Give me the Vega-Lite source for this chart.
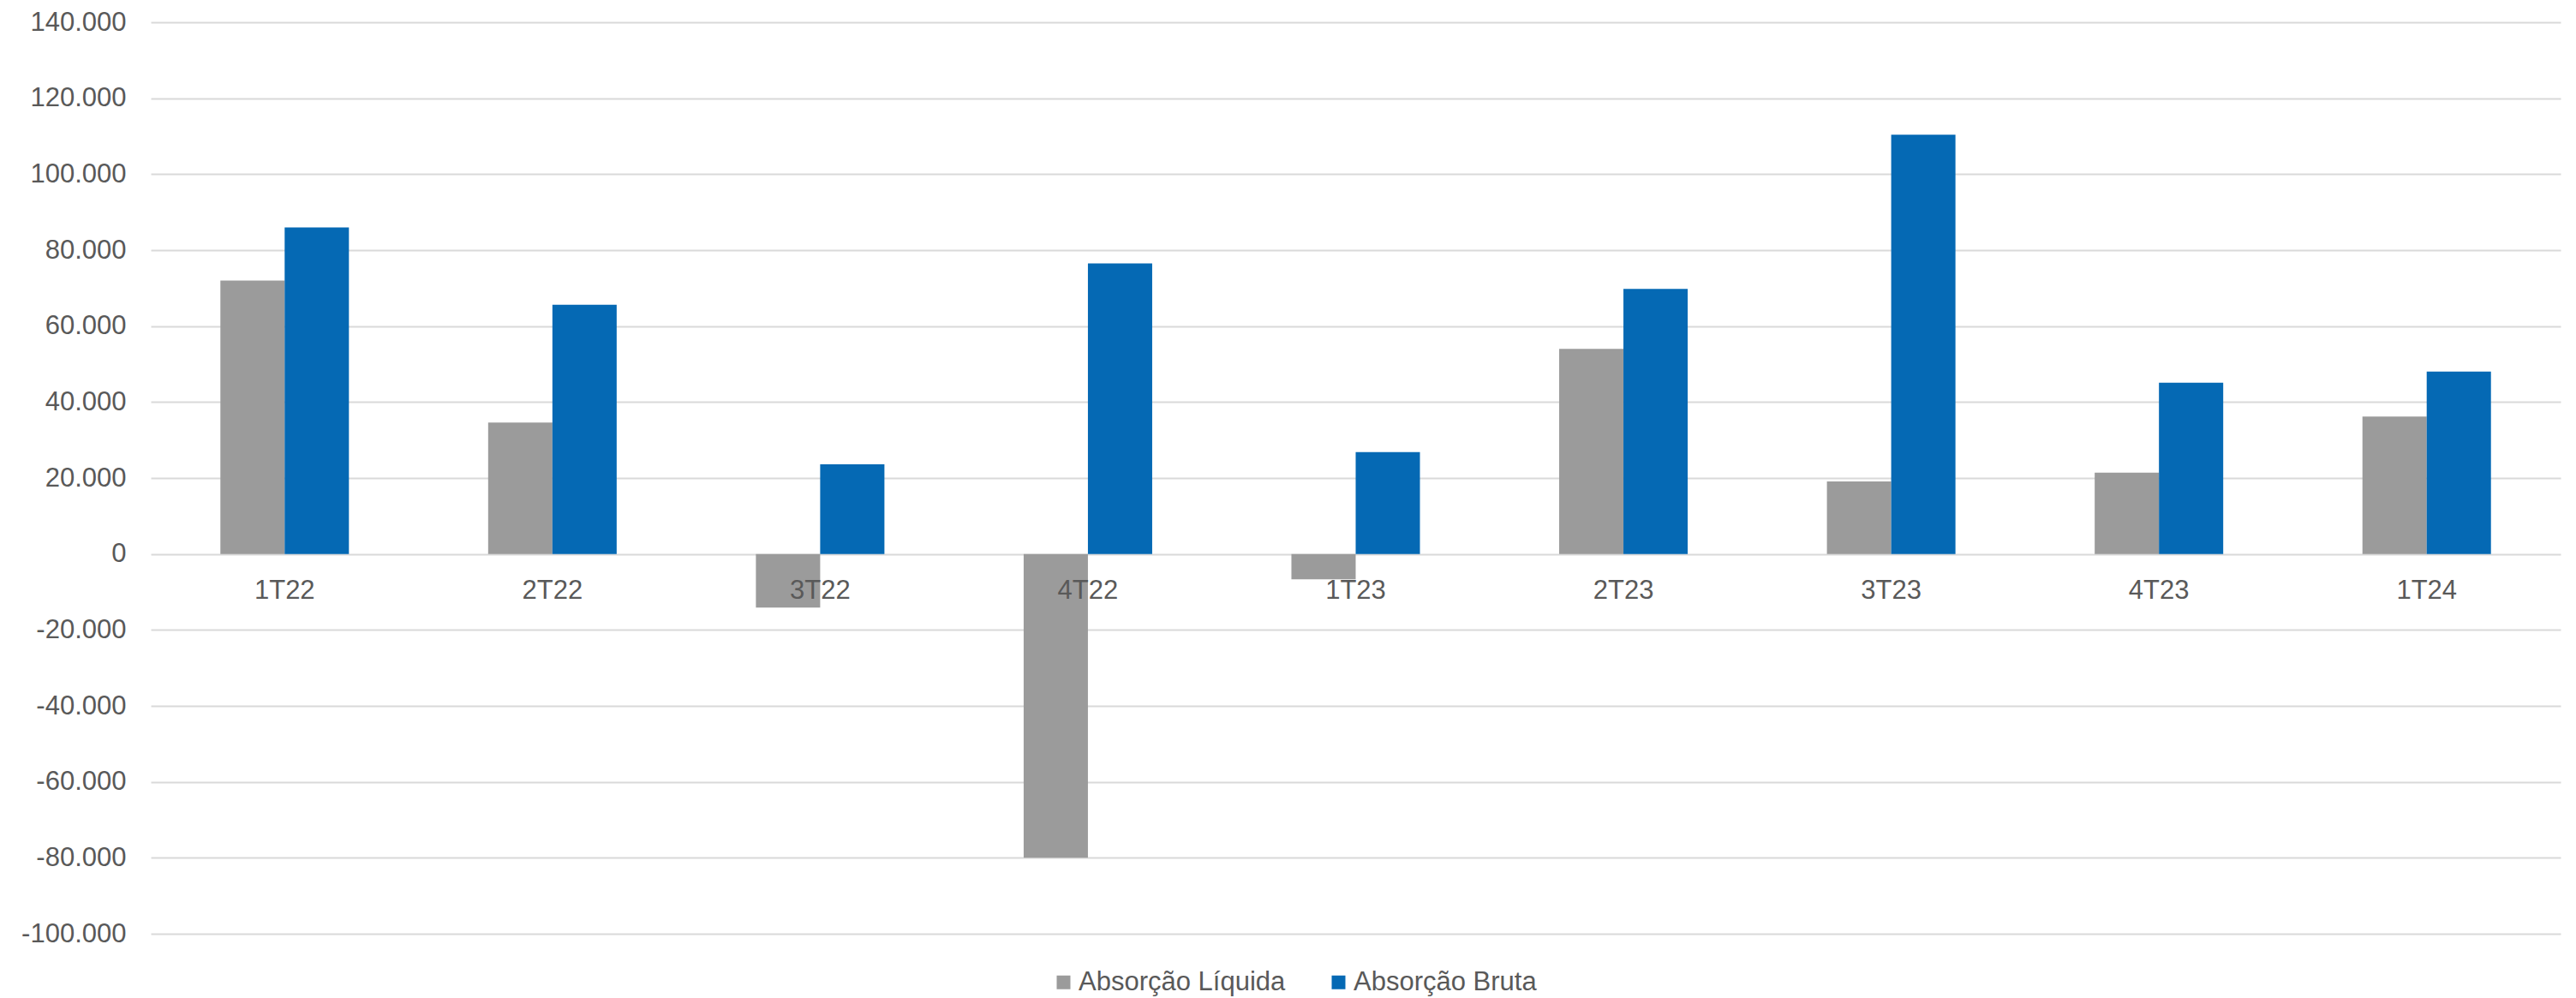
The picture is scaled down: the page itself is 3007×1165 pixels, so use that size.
{
  "$schema": "https://vega.github.io/schema/vega-lite/v6.json",
  "width": 2813,
  "height": 1064,
  "autosize": {"type": "none"},
  "padding": {"left": 176, "top": 26, "right": 18, "bottom": 75},
  "background": "white",
  "config": {
    "view": {"stroke": null},
    "font": "Liberation Sans",
    "axis": {
      "labelFont": "Liberation Sans",
      "labelFontSize": 31,
      "labelColor": "#595959",
      "domain": false,
      "ticks": false,
      "tickSize": 0,
      "title": null
    },
    "legend": {
      "labelFont": "Liberation Sans",
      "labelFontSize": 31,
      "labelColor": "#595959",
      "labelLimit": 0
    }
  },
  "data": {
    "values": [
      {"trimestre": "1T22", "serie": "Absorção Líquida", "valor": 72000},
      {"trimestre": "1T22", "serie": "Absorção Bruta", "valor": 86000},
      {"trimestre": "2T22", "serie": "Absorção Líquida", "valor": 34600},
      {"trimestre": "2T22", "serie": "Absorção Bruta", "valor": 65600},
      {"trimestre": "3T22", "serie": "Absorção Líquida", "valor": -14100},
      {"trimestre": "3T22", "serie": "Absorção Bruta", "valor": 23600},
      {"trimestre": "4T22", "serie": "Absorção Líquida", "valor": -80000},
      {"trimestre": "4T22", "serie": "Absorção Bruta", "valor": 76500},
      {"trimestre": "1T23", "serie": "Absorção Líquida", "valor": -6700},
      {"trimestre": "1T23", "serie": "Absorção Bruta", "valor": 26800},
      {"trimestre": "2T23", "serie": "Absorção Líquida", "valor": 54000},
      {"trimestre": "2T23", "serie": "Absorção Bruta", "valor": 69800},
      {"trimestre": "3T23", "serie": "Absorção Líquida", "valor": 19100},
      {"trimestre": "3T23", "serie": "Absorção Bruta", "valor": 110400},
      {"trimestre": "4T23", "serie": "Absorção Líquida", "valor": 21400},
      {"trimestre": "4T23", "serie": "Absorção Bruta", "valor": 45100},
      {"trimestre": "1T24", "serie": "Absorção Líquida", "valor": 36200},
      {"trimestre": "1T24", "serie": "Absorção Bruta", "valor": 48000}
    ]
  },
  "mark": {"type": "bar"},
  "encoding": {
    "x": {
      "field": "trimestre",
      "type": "nominal",
      "sort": ["1T22", "2T22", "3T22", "4T22", "1T23", "2T23", "3T23", "4T23", "1T24"],
      "scale": {"paddingInner": 0.52, "paddingOuter": 0.26},
      "axis": {"labelAngle": 0, "offset": -443.3, "labelPadding": 28, "zindex": 1, "grid": false}
    },
    "xOffset": {
      "field": "serie",
      "type": "nominal",
      "sort": ["Absorção Líquida", "Absorção Bruta"],
      "scale": {"paddingInner": 0, "paddingOuter": 0}
    },
    "y": {
      "field": "valor",
      "type": "quantitative",
      "scale": {"domain": [-100000, 140000], "nice": false, "zero": false},
      "axis": {
        "values": [-100000, -80000, -60000, -40000, -20000, 0, 20000, 40000, 60000, 80000, 100000, 120000, 140000],
        "labelExpr": "(datum.value < 0 ? '-' : '') + replace(format(abs(datum.value), ','), ',', '.')",
        "grid": true,
        "gridColor": "#d9d9d9",
        "gridWidth": 2,
        "labelPadding": 29
      }
    },
    "color": {
      "field": "serie",
      "type": "nominal",
      "sort": ["Absorção Líquida", "Absorção Bruta"],
      "scale": {"domain": ["Absorção Líquida", "Absorção Bruta"], "range": ["#9b9b9b", "#0569b4"]},
      "legend": {
        "orient": "none",
        "legendX": 1050,
        "legendY": 1105,
        "direction": "horizontal",
        "title": null,
        "symbolType": "square",
        "symbolSize": 256,
        "symbolStrokeWidth": 0,
        "labelOffset": 2,
        "columnPadding": 46
      }
    }
  }
}
